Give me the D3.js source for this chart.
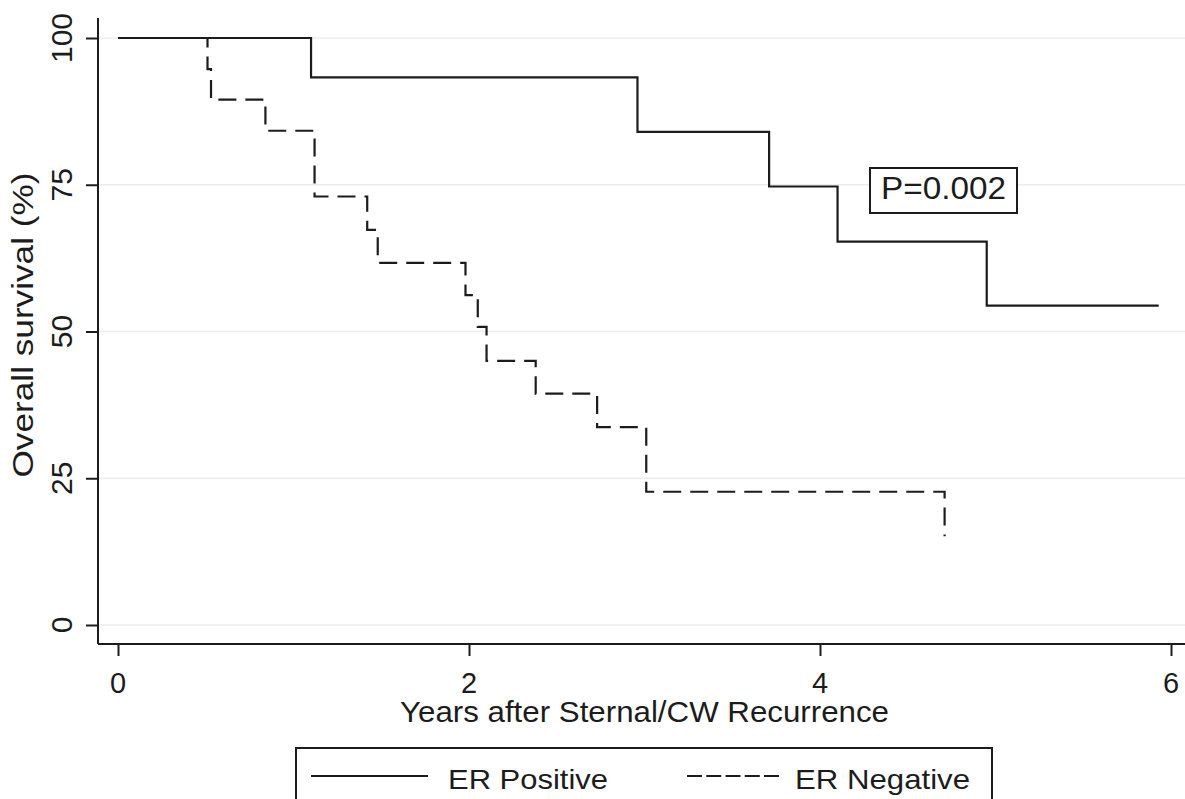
<!DOCTYPE html>
<html lang="en">
<head>
<meta charset="utf-8">
<title>Overall survival by ER status</title>
<script src="https://cdn.jsdelivr.net/npm/d3@7"></script>
<style>
body { margin: 0; background: #fff; }
text { font-family: "Liberation Sans", Arial, sans-serif; fill: #1c1c1c; }
</style>
</head>
<body>
<div id="chart"></div>
<script>
// Kaplan-Meier steps
var posYears = [0, 1.10, 2.96, 3.71, 4.10, 4.95, 5.93];
var posSurv  = [100, 93.3, 84.0, 74.7, 65.3, 54.4, 54.4];

var negYears = [0, 0.51, 0.53, 0.84, 1.12, 1.42, 1.48, 1.98, 2.05, 2.10, 2.38, 2.73, 3.01, 4.71];
var negSurv  = [100, 94.7, 89.5, 84.2, 73.0, 67.3, 61.7, 56.2, 50.8, 45.0, 39.4, 33.7, 22.7, 15.1];

var xTicks = [0, 2, 4, 6];
var yTicks = [0, 25, 50, 75, 100];
var seriesNames = ["ER Positive", "ER Negative"];
var pLabel = "P=0.002";

var width = 1185, height = 799;
var ink = "#1c1c1c";

var svg = d3.select("#chart").append("svg")
    .attr("width", width)
    .attr("height", height);

var x = d3.scaleLinear().domain([0, 6]).range([118, 1171]);
var y = d3.scaleLinear().domain([0, 100]).range([625, 38]);

var axisX = 98, axisY = 644;

// light grid
svg.append("g").selectAll("line")
    .data(yTicks)
    .join("line")
    .attr("x1", axisX).attr("x2", width)
    .attr("y1", d => y(d)).attr("y2", d => y(d))
    .attr("stroke", "#ececec")
    .attr("stroke-width", 1.5);

// y axis
var gy = svg.append("g")
    .attr("transform", "translate(" + axisX + ",0)")
    .call(d3.axisLeft(y).tickValues(yTicks).tickSize(12).tickFormat(""));
gy.select(".domain").attr("d", "M0,18V" + axisY).attr("stroke", ink).attr("stroke-width", 2);
gy.selectAll(".tick line").attr("stroke", ink).attr("stroke-width", 2);

svg.append("g").selectAll("text")
    .data(yTicks)
    .join("text")
    .attr("transform", d => "translate(72," + y(d) + ") rotate(-90)")
    .attr("text-anchor", "middle")
    .attr("font-size", 30)
    .text(d => d);

// x axis
var gx = svg.append("g")
    .attr("transform", "translate(0," + axisY + ")")
    .call(d3.axisBottom(x).tickValues(xTicks).tickSize(12).tickFormat(""));
gx.select(".domain").attr("d", "M" + axisX + ",0H" + width).attr("stroke", ink).attr("stroke-width", 2);
gx.selectAll(".tick line").attr("stroke", ink).attr("stroke-width", 2);

svg.append("g").selectAll("text")
    .data(xTicks)
    .join("text")
    .attr("x", d => x(d))
    .attr("y", 693)
    .attr("text-anchor", "middle")
    .attr("font-size", 29)
    .text(d => d);

// axis titles
svg.append("text")
    .attr("x", 644.5).attr("y", 722)
    .attr("text-anchor", "middle")
    .attr("font-size", 29)
    .attr("textLength", 489)
    .attr("lengthAdjust", "spacingAndGlyphs")
    .text("Years after Sternal/CW Recurrence");

svg.append("text")
    .attr("transform", "translate(33,325) rotate(-90)")
    .attr("text-anchor", "middle")
    .attr("font-size", 29)
    .attr("textLength", 305)
    .attr("lengthAdjust", "spacingAndGlyphs")
    .text("Overall survival (%)");

// survival curves
var line = d3.line()
    .x(d => x(d[0]))
    .y(d => y(d[1]))
    .curve(d3.curveStepAfter);

svg.append("path")
    .datum(d3.zip(negYears, negSurv))
    .attr("d", line)
    .attr("fill", "none")
    .attr("stroke", ink)
    .attr("stroke-width", 2.2)
    .attr("stroke-dasharray", "18,9");

svg.append("path")
    .datum(d3.zip(posYears, posSurv))
    .attr("d", line)
    .attr("fill", "none")
    .attr("stroke", ink)
    .attr("stroke-width", 2.2);

// p-value box
svg.append("rect")
    .attr("x", 870).attr("y", 168)
    .attr("width", 147).attr("height", 45)
    .attr("fill", "#fff")
    .attr("stroke", ink).attr("stroke-width", 2);
svg.append("text")
    .attr("x", 943.5).attr("y", 199)
    .attr("text-anchor", "middle")
    .attr("font-size", 31)
    .attr("textLength", 125)
    .attr("lengthAdjust", "spacingAndGlyphs")
    .text(pLabel);

// legend (box runs off the bottom edge, as in the original)
var legend = svg.append("g");
legend.append("rect")
    .attr("x", 296).attr("y", 748)
    .attr("width", 696).attr("height", 80)
    .attr("fill", "#fff")
    .attr("stroke", ink).attr("stroke-width", 2);

legend.append("line")
    .attr("x1", 311).attr("x2", 428)
    .attr("y1", 776).attr("y2", 776)
    .attr("stroke", ink).attr("stroke-width", 2);
legend.append("line")
    .attr("x1", 687).attr("x2", 779)
    .attr("y1", 776).attr("y2", 776)
    .attr("stroke", ink).attr("stroke-width", 2)
    .attr("stroke-dasharray", "15,4.25");

legend.append("text")
    .attr("x", 448).attr("y", 789)
    .attr("font-size", 28)
    .attr("textLength", 160)
    .attr("lengthAdjust", "spacingAndGlyphs")
    .text(seriesNames[0]);
legend.append("text")
    .attr("x", 795).attr("y", 789)
    .attr("font-size", 28)
    .attr("textLength", 175)
    .attr("lengthAdjust", "spacingAndGlyphs")
    .text(seriesNames[1]);
</script>
</body>
</html>
